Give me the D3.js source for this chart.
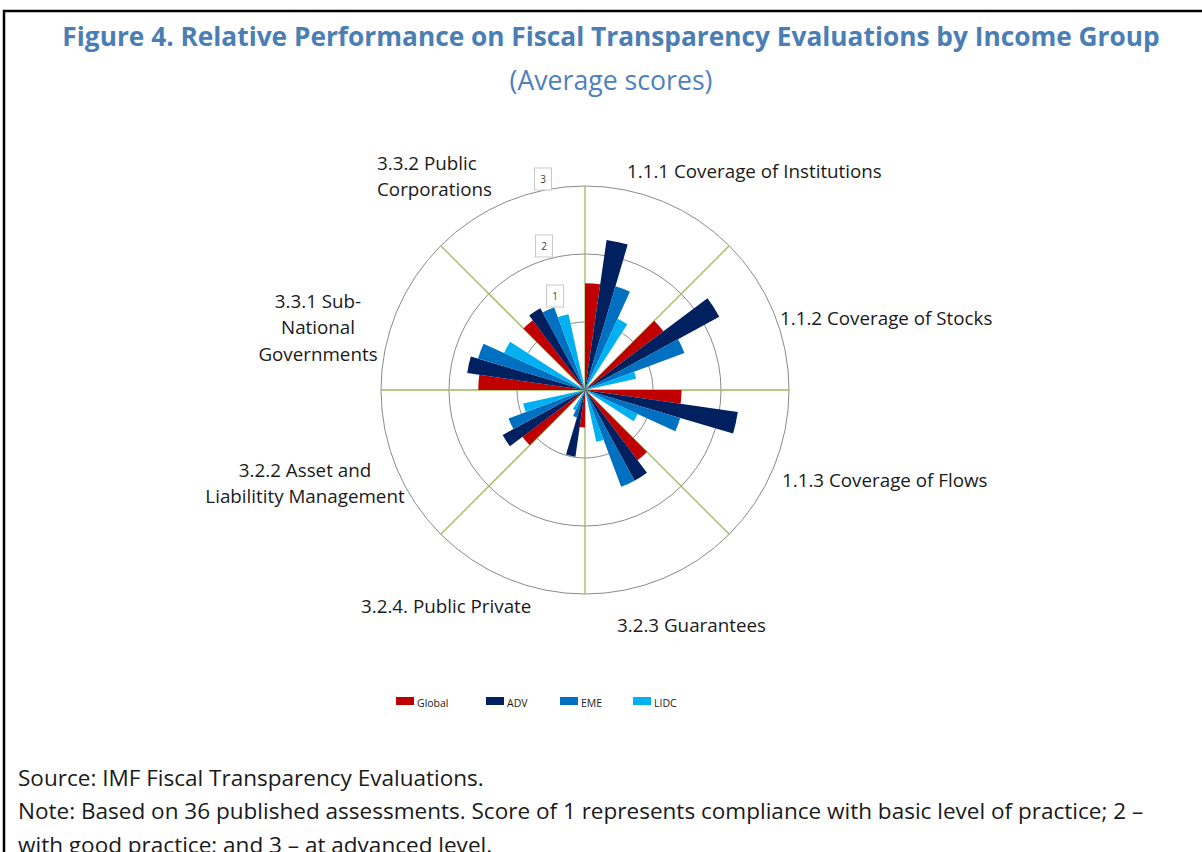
<!DOCTYPE html>
<html>
<head>
<meta charset="utf-8">
<script src="https://cdn.jsdelivr.net/npm/d3@7"></script>
<style>
  body { margin: 0; background: #fff; }
  svg { display: block; font-family: "Open Sans", "Noto Sans", sans-serif; }
</style>
</head>
<body>
<div id="chart"></div>
<script>
// Data (average scores, 0-3)
var categories = ["1.1.1", "1.1.2", "1.1.3", "3.2.3", "3.2.4", "3.2.2", "3.3.1", "3.3.2"];
var series = ["Global", "ADV", "EME", "LIDC"];
var globalScores = [1.57, 1.44, 1.42, 1.29, 0.55, 1.15, 1.57, 1.28];
var advScores    = [2.23, 2.25, 2.27, 1.52, 0.99, 1.38, 1.75, 1.37];
var emeScores    = [1.59, 1.56, 1.46, 1.52, 0.42, 1.20, 1.64, 1.30];
var lidcScores   = [1.15, 0.77, 0.85, 0.78, 0.33, 0.93, 1.31, 1.14];
var ringTicks = [1, 2, 3];

var catLabels = [
  ["1.1.1 Coverage of Institutions"],
  ["1.1.2 Coverage of Stocks"],
  ["1.1.3 Coverage of Flows"],
  ["3.2.3 Guarantees"],
  ["3.2.4. Public Private"],
  ["3.2.2 Asset and", "Liabilitity Management"],
  ["3.3.1 Sub-", "National", "Governments"],
  ["3.3.2 Public", "Corporations"]
];

var colors = ["#c00000", "#002060", "#0070c0", "#00b0f0"];

var w = 1202, h = 852;
var cx = 585, cy = 390;

var svg = d3.select("#chart").append("svg")
    .attr("width", w)
    .attr("height", h);

svg.append("rect").attr("width", w).attr("height", h).style("fill", "white");

// frame (top and left edges are visible)
svg.append("path")
    .attr("d", "M4,852 V11 H1202")
    .style("fill", "none")
    .style("stroke", "black")
    .style("stroke-width", 2.5);

// shrink a text to a given width by lowering its font size
function fitWidth(sel, width) {
    var fs = parseFloat(sel.style("font-size"));
    var len = sel.node().getComputedTextLength();
    sel.style("font-size", (fs * width / len) + "px");
    return fs * width / len;
}

var title = svg.append("text")
    .attr("x", 611).attr("y", 46)
    .attr("text-anchor", "middle")
    .style("font-size", "26px")
    .style("font-weight", "bold")
    .style("fill", "#4a7eb5")
    .text("Figure 4. Relative Performance on Fiscal Transparency Evaluations by Income Group");
fitWidth(title, 1098);

var sub = svg.append("text")
    .attr("x", 611).attr("y", 90)
    .attr("text-anchor", "middle")
    .style("font-size", "24px")
    .style("fill", "#4f81bd")
    .text("(Average scores)");
fitWidth(sub, 203);

// scales
var rScale = d3.scaleLinear().domain([0, 3]).range([0, 204]);
var angle = d3.scaleBand().domain(categories).range([0, 2 * Math.PI]);
var sub_angle = d3.scaleBand().domain(series)
    .range([0, angle.bandwidth()])
    .paddingInner(0).paddingOuter(0.75).align(0);

var g = svg.append("g").attr("transform", "translate(" + cx + "," + cy + ")");

// rings
g.selectAll("circle.ring")
    .data(ringTicks)
    .enter().append("circle")
    .attr("class", "ring")
    .attr("r", function(d) { return rScale(d); })
    .style("fill", "none")
    .style("stroke", "#8a8a8a")
    .style("stroke-width", 1);

// spokes
g.selectAll("line.spoke")
    .data(categories)
    .enter().append("line")
    .attr("class", "spoke")
    .attr("x1", 0).attr("y1", 0)
    .attr("x2", function(d) { return Math.sin(angle(d)) * rScale(3); })
    .attr("y2", function(d) { return -Math.cos(angle(d)) * rScale(3); })
    .style("stroke", "#9bbb59")
    .style("stroke-width", 1.3);

// bars
var allScores = [globalScores, advScores, emeScores, lidcScores];
var bars = [];
categories.forEach(function(c, i) {
    series.forEach(function(s, j) {
        bars.push({cat: c, series: s, value: allScores[j][i], color: colors[j]});
    });
});

var arc = d3.arc()
    .innerRadius(0)
    .outerRadius(function(d) { return rScale(d.value); })
    .startAngle(function(d) { return angle(d.cat) + sub_angle(d.series); })
    .endAngle(function(d) { return angle(d.cat) + sub_angle(d.series) + sub_angle.bandwidth(); });

g.selectAll("path.bar")
    .data(bars)
    .enter().append("path")
    .attr("class", "bar")
    .attr("d", arc)
    .style("fill", function(d) { return d.color; });

// ring value labels in small boxes
var tickNudge = [[-30, -26], [-41, -8], [-42, -7]];
var tk = g.selectAll("g.tick")
    .data(ringTicks)
    .enter().append("g")
    .attr("class", "tick")
    .attr("transform", function(d, i) {
        return "translate(" + tickNudge[i][0] + "," + (-rScale(d) + tickNudge[i][1]) + ")";
    });
tk.append("rect")
    .attr("x", -8.5).attr("y", -11)
    .attr("width", 17).attr("height", 22)
    .style("fill", "white")
    .style("stroke", "#c8c8c8");
tk.append("text")
    .attr("text-anchor", "middle")
    .attr("dy", "0.35em")
    .style("font-size", "10px")
    .style("fill", "#404040")
    .text(function(d) { return d; });

// category labels: [x, y of first line, anchor]
var labelPos = [
    [627, 171, "start"],
    [780, 318, "start"],
    [782, 480, "start"],
    [617, 625, "start"],
    [361, 606, "start"],
    [305, 470, "middle"],
    [318, 301, "middle"],
    [377, 163, "start"]
];
var probe = svg.append("text").style("font-size", "18px").text(catLabels[0][0]);
var labelSize = fitWidth(probe, 255);
probe.remove();

catLabels.forEach(function(lines, i) {
    var t = svg.append("text")
        .attr("x", labelPos[i][0])
        .attr("y", labelPos[i][1])
        .attr("text-anchor", labelPos[i][2])
        .style("font-size", labelSize + "px")
        .style("fill", "#1a1a1a");
    lines.forEach(function(line, k) {
        t.append("tspan")
            .attr("x", labelPos[i][0])
            .attr("y", labelPos[i][1] + k * 26.5)
            .attr("dy", "0.35em")
            .text(line);
    });
});

// legend
var legendX = [396, 486, 560, 633];
var leg = svg.selectAll("g.legend")
    .data(series)
    .enter().append("g")
    .attr("class", "legend")
    .attr("transform", function(d, i) { return "translate(" + legendX[i] + ",697)"; });
leg.append("rect")
    .attr("width", 18).attr("height", 8)
    .style("fill", function(d, i) { return colors[i]; });
leg.append("text")
    .attr("x", 21).attr("y", 7)
    .attr("dy", "0.3em")
    .style("font-size", "10.5px")
    .style("fill", "#1a1a1a")
    .text(function(d) { return d; });

// source and notes
var notes = [
    ["Source: IMF Fiscal Transparency Evaluations.", 466],
    ["Note: Based on 36 published assessments. Score of 1 represents compliance with basic level of practice; 2 \u2013", 1132],
    ["with good practice; and 3 \u2013 at advanced level.", 480]
];
var noteSize = null;
notes.forEach(function(n, i) {
    var t = svg.append("text")
        .attr("x", 18)
        .attr("y", 778 + i * 33.5)
        .attr("dy", "0.35em")
        .style("font-size", "20px")
        .style("fill", "#1a1a1a")
        .text(n[0]);
    if (i === 0) noteSize = fitWidth(t, n[1]);
    else t.style("font-size", noteSize + "px");
});
</script>
</body>
</html>
